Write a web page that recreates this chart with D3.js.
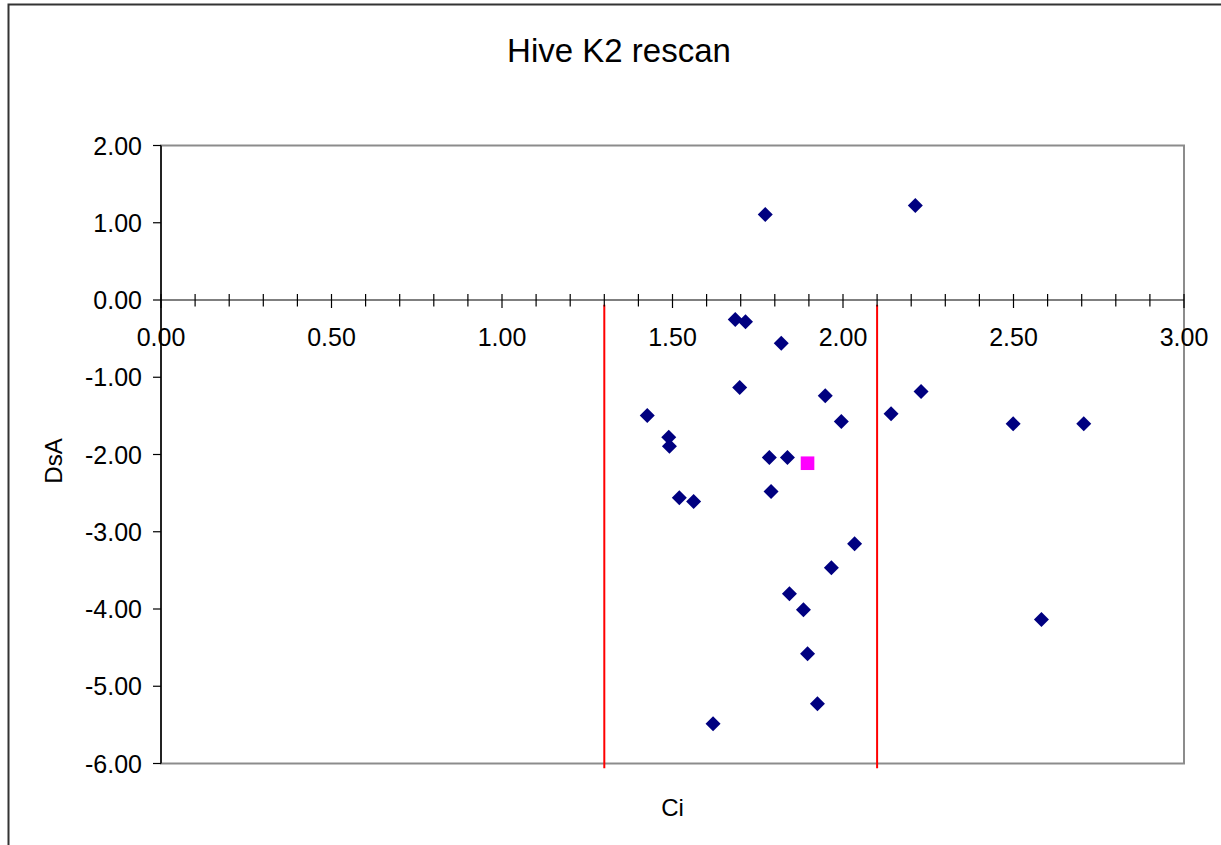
<!DOCTYPE html>
<html>
<head>
<meta charset="utf-8">
<script src="https://cdn.jsdelivr.net/npm/d3@7"></script>
<style>
  body { margin: 0; background: #fff; }
  text { font-family: "Liberation Sans", Arial, sans-serif; fill: #000; }
</style>
</head>
<body>
<svg id="canvas"></svg>
<script>
// Ci / DsA readings for the hive K2 rescan
const ciValues = [1.772, 2.212, 1.684, 1.714, 1.819, 1.697, 1.948, 2.229, 1.426, 2.141,
  1.995, 2.499, 2.706, 1.489, 1.491, 1.784, 1.837, 1.789, 1.520, 1.562,
  2.034, 1.966, 1.843, 1.884, 2.582, 1.896, 1.925, 1.619];
const dsaValues = [1.107, 1.223, -0.252, -0.282, -0.559, -1.133, -1.240, -1.184, -1.495, -1.473,
  -1.573, -1.603, -1.603, -1.776, -1.893, -2.039, -2.039, -2.479, -2.561, -2.608,
  -3.156, -3.467, -3.803, -4.010, -4.136, -4.580, -5.227, -5.486];

// the highlighted point (magenta square)
const markCi = [1.896];
const markDsA = [-2.113];

// red cut-off lines
const cutoffCi = [1.3, 2.1];
const cutoffDsA = [-0.06, -6.06];

const xTicks = [0, 0.5, 1, 1.5, 2, 2.5, 3];
const xMinorTicks = d3.range(0, 31).map((d) => d / 10);
const yTicks = [2, 1, 0, -1, -2, -3, -4, -5, -6];

function getChartConfig() {
  let canvasWidth = 1221,
    canvasHeight = 845;
  let margin = { top: 145.5, right: 37, bottom: 81.5, left: 161 };
  let width = canvasWidth - margin.left - margin.right;
  let height = canvasHeight - margin.top - margin.bottom;

  let svg = d3.select("#canvas");
  svg.attr("width", canvasWidth);
  svg.attr("height", canvasHeight);

  return { canvasWidth, canvasHeight, margin, width, height, svg };
}

function getChartScales(config) {
  let { width, height } = config;
  let xScale = d3.scaleLinear().domain([0, 3]).range([0, width]);
  let yScale = d3.scaleLinear().domain([-6, 2]).range([height, 0]);
  return { xScale, yScale };
}

function drawFrame(scales, config) {
  let { svg, margin, width, height } = config;

  // outer chart border (only top and left visible)
  svg
    .append("rect")
    .attr("x", 8.5)
    .attr("y", 4.5)
    .attr("width", 1400)
    .attr("height", 1000)
    .attr("fill", "none")
    .attr("stroke", "#333")
    .attr("stroke-width", 2);

  svg
    .append("text")
    .attr("x", 619)
    .attr("y", 62)
    .attr("text-anchor", "middle")
    .style("font-size", "33px")
    .text("Hive K2 rescan");

  // plot area border
  svg
    .append("rect")
    .attr("x", margin.left)
    .attr("y", margin.top)
    .attr("width", width)
    .attr("height", height)
    .attr("fill", "none")
    .attr("stroke", "#8c8c8c")
    .attr("stroke-width", 2);
}

function drawAxes(scales, config) {
  let { xScale, yScale } = scales;
  let { svg, margin, width, height } = config;
  let g = svg.append("g").attr("transform", `translate(${margin.left},${margin.top})`);
  let y0 = yScale(0);

  // y axis
  g.append("line")
    .attr("x1", 0).attr("x2", 0)
    .attr("y1", 0).attr("y2", height)
    .attr("stroke", "#000").attr("stroke-width", 1.5);

  g.selectAll(".ytick")
    .data(yTicks)
    .enter()
    .append("line")
    .attr("x1", -8).attr("x2", 0)
    .attr("y1", (d) => yScale(d)).attr("y2", (d) => yScale(d))
    .attr("stroke", "#000").attr("stroke-width", 1.2);

  g.selectAll(".ylabel")
    .data(yTicks)
    .enter()
    .append("text")
    .attr("x", -19)
    .attr("y", (d) => yScale(d))
    .attr("dy", "0.36em")
    .attr("text-anchor", "end")
    .style("font-size", "25px")
    .text((d) => d3.format(".2f")(d).replace("−", "-"));

  // x axis crossing at 0
  g.append("line")
    .attr("x1", 0).attr("x2", width)
    .attr("y1", y0).attr("y2", y0)
    .attr("stroke", "#000").attr("stroke-width", 1.2);

  g.selectAll(".xtick")
    .data(xMinorTicks)
    .enter()
    .append("line")
    .attr("x1", (d) => xScale(d)).attr("x2", (d) => xScale(d))
    .attr("y1", y0 - 6)
    .attr("y2", (d, i) => (i % 5 === 0 ? y0 + 8 : y0 + 6.5))
    .attr("stroke", "#000").attr("stroke-width", 1.2);

  g.selectAll(".xlabel")
    .data(xTicks)
    .enter()
    .append("text")
    .attr("x", (d) => xScale(d))
    .attr("y", y0 + 46)
    .attr("text-anchor", "middle")
    .style("font-size", "25px")
    .text((d) => d3.format(".2f")(d));

  svg
    .append("text")
    .attr("x", margin.left + width / 2)
    .attr("y", 816)
    .attr("text-anchor", "middle")
    .style("font-size", "24px")
    .text("Ci");

  svg
    .append("text")
    .attr("transform", `translate(62,461) rotate(-90)`)
    .attr("text-anchor", "middle")
    .style("font-size", "24px")
    .text("DsA");
}

function drawChart(scales, config) {
  let { xScale, yScale } = scales;
  let { svg, margin } = config;
  let g = svg.append("g").attr("transform", `translate(${margin.left},${margin.top})`);

  // cut-off lines
  g.selectAll(".cutoff")
    .data(cutoffCi)
    .enter()
    .append("line")
    .attr("x1", (d) => xScale(d)).attr("x2", (d) => xScale(d))
    .attr("y1", yScale(cutoffDsA[0]))
    .attr("y2", yScale(cutoffDsA[1]))
    .attr("stroke", "#ff0000")
    .attr("stroke-width", 2);

  let points = ciValues.map((c, i) => ({ ci: c, dsa: dsaValues[i] }));
  let diamond = "M0,-7.5L7.5,0L0,7.5L-7.5,0Z";

  g.selectAll(".pt")
    .data(points)
    .enter()
    .append("path")
    .attr("d", diamond)
    .attr("transform", (d) => `translate(${xScale(d.ci)},${yScale(d.dsa)})`)
    .attr("fill", "#000080");

  g.selectAll(".mark")
    .data(markCi.map((c, i) => ({ ci: c, dsa: markDsA[i] })))
    .enter()
    .append("rect")
    .attr("x", (d) => xScale(d.ci) - 6.8)
    .attr("y", (d) => yScale(d.dsa) - 6.8)
    .attr("width", 13.6)
    .attr("height", 13.6)
    .attr("fill", "#ff00ff");
}

let config = getChartConfig();
let scales = getChartScales(config);
drawFrame(scales, config);
drawChart(scales, config);
drawAxes(scales, config);
</script>
</body>
</html>
